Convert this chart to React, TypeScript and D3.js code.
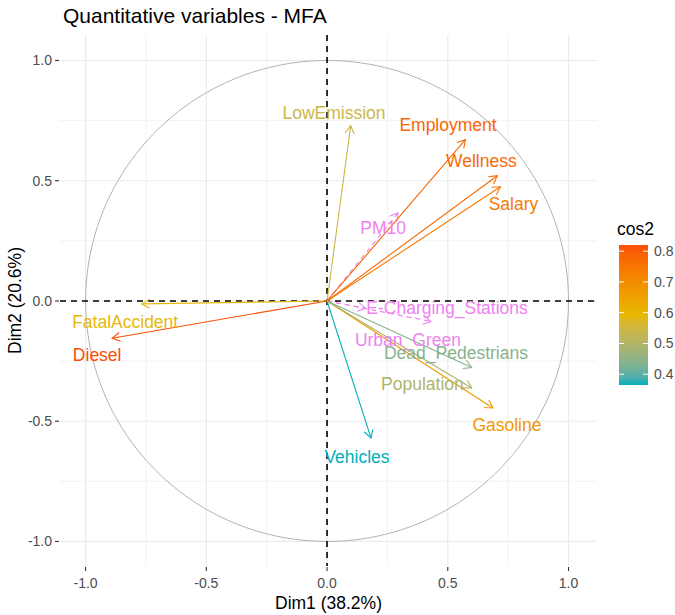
import React from "react";
import { scaleLinear, range, interpolateLab, piecewise } from "d3";

// active quantitative variables (Dim1, Dim2 coordinates)
const varNames = ["LowEmission", "Employment", "Wellness", "Salary", "FatalAccident", "Diesel", "Vehicles", "Gasoline", "Population", "Dead_Pedestrians"];
const dim1 = [0.098, 0.573, 0.705, 0.718, -0.767, -0.89, 0.182, 0.687, 0.599, 0.599];
const dim2 = [0.729, 0.671, 0.521, 0.475, -0.012, -0.155, -0.57, -0.445, -0.362, -0.277];
const cos2 = [0.54, 0.78, 0.77, 0.74, 0.59, 0.82, 0.365, 0.67, 0.49, 0.44];
// where ggrepel put the labels (data units)
const labelX = [0.029, 0.501, 0.639, 0.772, -0.836, -0.952, 0.124, 0.745, 0.395, 0.534];
const labelY = [0.783, 0.732, 0.582, 0.404, -0.086, -0.224, -0.648, -0.516, -0.345, -0.216];

// supplementary variables (dashed, violet)
const supNames = ["PM10", "E-Charging_Stations", "Urban_Green"];
const supDim1 = [0.294, 0.43, 0.16];
const supDim2 = [0.366, -0.085, -0.03];
const supLabelX = [0.232, 0.497, 0.335];
const supLabelY = [0.303, -0.03, -0.163];

const majorTicks = [-1, -0.5, 0, 0.5, 1];
const minorTicks = [-0.75, -0.25, 0.25, 0.75];
const legendTicks = [0.4, 0.5, 0.6, 0.7, 0.8];
const gradientCols = ["#00AFBB", "#E7B800", "#FC4E07"];

const W = 675;
const H = 615;
const font = "'Liberation Sans', Arial, sans-serif";

function Arrow({ x1, y1, x2, y2, color, dashed }: any) {
  const a = Math.atan2(y2 - y1, x2 - x1);
  const len = 9;
  const sp = Math.PI / 6;
  const h1 = [x2 - len * Math.cos(a - sp), y2 - len * Math.sin(a - sp)];
  const h2 = [x2 - len * Math.cos(a + sp), y2 - len * Math.sin(a + sp)];
  return (
    <g stroke={color} strokeWidth={1.1} fill="none">
      <line x1={x1} y1={y1} x2={x2} y2={y2} strokeDasharray={dashed ? "5 4" : undefined} />
      <polyline points={`${h1[0]},${h1[1]} ${x2},${y2} ${h2[0]},${h2[1]}`} />
    </g>
  );
}

export default function App() {
  const x = scaleLinear().domain([-1.106, 1.118]).range([60, 597]);
  const y = scaleLinear().domain([-1.102, 1.106]).range([566, 35]);

  const cMin = Math.min(...cos2);
  const cMax = Math.max(...cos2);
  const interp = piecewise(interpolateLab, gradientCols);
  const color = (v: number) => interp((v - cMin) / (cMax - cMin));

  const legY = scaleLinear().domain([cMin, cMax]).range([385, 245]);
  const circle = range(0, 361, 2).map((d) => {
    const t = (d * Math.PI) / 180;
    return `${x(Math.cos(t))},${y(Math.sin(t))}`;
  });

  return (
    <svg width={W} height={H} style={{ display: "block", position: "absolute", left: 0, top: 0 }} fontFamily={font}>
      <rect width={W} height={H} fill="white" />
      {/* grid */}
      {minorTicks.map((t) => (
        <g key={"mn" + t} stroke="#F1F1F1" strokeWidth={0.9}>
          <line x1={x(t)} x2={x(t)} y1={35} y2={566} />
          <line x1={60} x2={597} y1={y(t)} y2={y(t)} />
        </g>
      ))}
      {majorTicks.map((t) => (
        <g key={"mj" + t} stroke="#EBEBEB" strokeWidth={1.2}>
          <line x1={x(t)} x2={x(t)} y1={35} y2={566} />
          <line x1={60} x2={597} y1={y(t)} y2={y(t)} />
        </g>
      ))}
      {/* correlation circle */}
      <polyline points={circle.join(" ")} fill="none" stroke="#B3B3B3" strokeWidth={1} />
      {/* axes at zero */}
      <line x1={60} x2={597} y1={y(0)} y2={y(0)} stroke="black" strokeWidth={1.6} strokeDasharray="6 5" />
      <line x1={x(0)} x2={x(0)} y1={35} y2={566} stroke="black" strokeWidth={1.6} strokeDasharray="6 5" />

      {supNames.map((n, i) => (
        <Arrow key={n} x1={x(0)} y1={y(0)} x2={x(supDim1[i])} y2={y(supDim2[i])} color="#EE82EE" dashed />
      ))}
      {varNames.map((n, i) => (
        <Arrow key={n} x1={x(0)} y1={y(0)} x2={x(dim1[i])} y2={y(dim2[i])} color={color(cos2[i])} />
      ))}
      {supNames.map((n, i) => (
        <text key={"t" + n} x={x(supLabelX[i])} y={y(supLabelY[i])} fill="#EE82EE" fontSize={17.5} textAnchor="middle" dominantBaseline="central">
          {n}
        </text>
      ))}
      {varNames.map((n, i) => (
        <text key={"t" + n} x={x(labelX[i])} y={y(labelY[i])} fill={color(cos2[i])} fontSize={17.5} textAnchor="middle" dominantBaseline="central">
          {n}
        </text>
      ))}

      {/* axes */}
      {majorTicks.map((t) => (
        <g key={"ax" + t}>
          <line x1={x(t)} x2={x(t)} y1={567} y2={571} stroke="#333" strokeWidth={1.1} />
          <text x={x(t)} y={583} fontSize={14} fill="#4D4D4D" textAnchor="middle" dominantBaseline="central">
            {t.toFixed(1)}
          </text>
          <line x1={55} x2={59} y1={y(t)} y2={y(t)} stroke="#333" strokeWidth={1.1} />
          <text x={52} y={y(t)} fontSize={14} fill="#4D4D4D" textAnchor="end" dominantBaseline="central">
            {t.toFixed(1)}
          </text>
        </g>
      ))}
      <text x={(60 + 597) / 2} y={603} fontSize={17.5} textAnchor="middle" dominantBaseline="central">
        Dim1 (38.2%)
      </text>
      <text transform={`translate(15,${(35 + 566) / 2}) rotate(-90)`} fontSize={17.5} textAnchor="middle" dominantBaseline="central">
        Dim2 (20.6%)
      </text>
      <text x={63} y={15} fontSize={21} dominantBaseline="central">
        Quantitative variables - MFA
      </text>

      {/* legend */}
      <defs>
        <linearGradient id="cosgrad" x1="0" y1="1" x2="0" y2="0">
          {range(0, 1.0001, 0.05).map((s) => (
            <stop key={s} offset={s} stopColor={interp(s)} />
          ))}
        </linearGradient>
      </defs>
      <text x={617} y={229} fontSize={17.5} dominantBaseline="central">
        cos2
      </text>
      <rect x={619} y={245} width={29} height={140} fill="url(#cosgrad)" />
      {legendTicks.map((t) => (
        <g key={"lg" + t}>
          <line x1={619} x2={624} y1={legY(t)} y2={legY(t)} stroke="white" strokeWidth={1} />
          <line x1={643} x2={648} y1={legY(t)} y2={legY(t)} stroke="white" strokeWidth={1} />
          <text x={654} y={legY(t)} fontSize={14} fill="#4D4D4D" dominantBaseline="central">
            {t.toFixed(1)}
          </text>
        </g>
      ))}
    </svg>
  );
}
